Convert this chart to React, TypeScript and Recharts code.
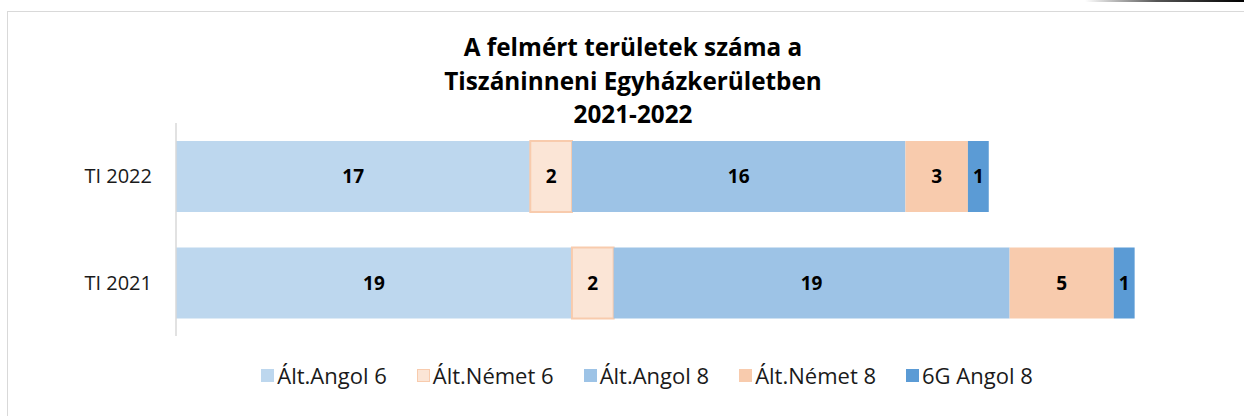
import React from 'react';
import { BarChart, Bar, XAxis, YAxis, LabelList } from 'recharts';

const categories = ['TI 2022', 'TI 2021'];
const altAngol6 = [17, 19];
const altNemet6 = [2, 2];
const altAngol8 = [16, 19];
const altNemet8 = [3, 5];
const g6Angol8 = [1, 1];

const seriesNames = ['Ált.Angol 6', 'Ált.Német 6', 'Ált.Angol 8', 'Ált.Német 8', '6G Angol 8'];
const seriesValues = [altAngol6, altNemet6, altAngol8, altNemet8, g6Angol8];
const seriesFills = ['#BDD7EE', '#FBE5D6', '#9DC3E6', '#F8CBAD', '#5B9BD5'];
const seriesStrokes = ['none', '#F8CBAD', 'none', 'none', 'none'];

const titleLines = ['A felmért területek száma a', 'Tiszáninneni Egyházkerületben', '2021-2022'];
const xMax = 50;

const data = categories.map((c, i) => {
  const row: Record<string, string | number> = { name: c };
  seriesNames.forEach((s, k) => {
    row['s' + k] = seriesValues[k][i];
  });
  return row;
});

const FONT = '"Open Sans", Lato, sans-serif';

const LegendContent = () => (
  <div
    style={{
      display: 'flex',
      justifyContent: 'center',
      alignItems: 'center',
      gap: 30,
      fontFamily: FONT,
      fontSize: 22,
      color: '#1a1a1a',
    }}
  >
    {seriesNames.map((s, k) => (
      <div key={s} style={{ display: 'flex', alignItems: 'center' }}>
        <span
          style={{
            display: 'inline-block',
            width: seriesStrokes[k] === 'none' ? 13 : 11,
            height: seriesStrokes[k] === 'none' ? 13 : 11,
            background: seriesFills[k],
            border: seriesStrokes[k] === 'none' ? 'none' : `1px solid ${seriesStrokes[k]}`,
            marginRight: 3,
          }}
        />
        <span>{s}</span>
      </div>
    ))}
  </div>
);

export default function App() {
  return (
    <div style={{ position: 'absolute', left: 0, top: 0, width: 1244, height: 416, background: '#fff', overflow: 'hidden' }}>
      <div
        style={{
          position: 'absolute',
          left: 1085,
          top: 0,
          width: 159,
          height: 2,
          background: 'linear-gradient(to right, rgba(0,0,0,0), #555 45%, #000 100%)',
        }}
      />
      <div
        style={{
          position: 'absolute',
          left: 7,
          top: 11,
          width: 1260,
          height: 430,
          border: '1.5px solid #d9d9d9',
          boxSizing: 'border-box',
        }}
      />
      <div
        style={{
          position: 'absolute',
          left: 333,
          top: 30,
          width: 600,
          textAlign: 'center',
          fontFamily: FONT,
          fontWeight: 'bold',
          fontSize: 24.3,
          lineHeight: '33.5px',
          color: '#000',
        }}
      >
        {titleLines.map((t) => (
          <div key={t}>{t}</div>
        ))}
      </div>
      <div style={{ position: 'absolute', left: 0, top: 0 }}>
        <BarChart
          width={1244}
          height={416}
          data={data}
          layout="vertical"
          margin={{ top: 123, right: 26, bottom: 80, left: 0 }}
          barSize={71}
        >
          <XAxis type="number" domain={[0, xMax]} hide />
          <YAxis
            type="category"
            dataKey="name"
            width={176}
            axisLine={{ stroke: '#d9d9d9', strokeWidth: 1.5 }}
            tickLine={false}
            tickSize={0}
            tickMargin={24}
            tick={{ fontFamily: FONT, fontSize: 20, fill: '#1a1a1a' }}
          />
          {seriesNames.map((s, k) => (
            <Bar
              key={s}
              dataKey={'s' + k}
              name={s}
              stackId="a"
              fill={seriesFills[k]}
              stroke={seriesStrokes[k]}
              strokeWidth={seriesStrokes[k] === 'none' ? 0 : 2}
              isAnimationActive={false}
            >
              <LabelList
                dataKey={'s' + k}
                position="center"
                style={{ fontFamily: FONT, fontWeight: 'bold', fontSize: 19, fill: '#000' }}
              />
            </Bar>
          ))}
        </BarChart>
      </div>
      <div style={{ position: 'absolute', left: 25, top: 360, width: 1244 }}>
        <LegendContent />
      </div>
    </div>
  );
}
